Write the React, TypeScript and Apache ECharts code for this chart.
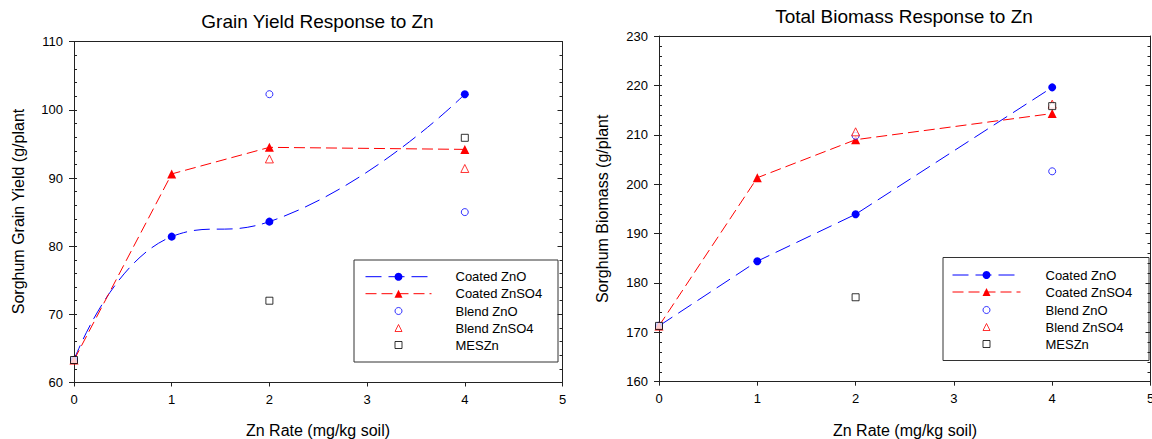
import React, { useEffect, useRef } from "react";
import * as echarts from "echarts";

// ---------- data ----------
const xTickValues = [0, 1, 2, 3, 4, 5];
const coatedRates = [0, 1, 2, 4];
const blendRates = [2, 4];
const mesRates = [0, 2, 4];

const seriesNames = ["Coated ZnO", "Coated ZnSO4", "Blend ZnO", "Blend ZnSO4", "MESZn"];

const grainCoatedZnO = [63.3, 81.4, 83.6, 102.3];
const grainCoatedZnSO4 = [63.3, 90.6, 94.5, 94.2];
const grainBlendZnO = [102.3, 85.0];
const grainBlendZnSO4 = [92.8, 91.4];
const grainMESZn = [63.3, 72.0, 95.9];

const bioCoatedZnO = [171.3, 184.4, 193.9, 219.6];
const bioCoatedZnSO4 = [171.3, 201.3, 209.0, 214.3];
const bioBlendZnO = [209.8, 202.6];
const bioBlendZnSO4 = [210.6, 216.2];
const bioMESZn = [171.3, 177.1, 215.8];

const grainYRange = [60, 110];
const bioYRange = [160, 230];

const titles = ["Grain Yield Response to Zn", "Total Biomass Response to Zn"];
const xNames = ["Zn Rate (mg/kg soil)", "Zn Rate (mg/kg soil)"];
const yNames = ["Sorghum Grain Yield (g/plant", "Sorghum Biomass (g/plant"];

// ---------- styling ----------
const FONT = "'Liberation Sans', Arial, Helvetica, sans-serif";
const BLUE = "#0000ff";
const RED = "#ff0000";
const AXIS = "#222";

const pair = (xs: number[], ys: number[]) => xs.map((x, i) => [x, ys[i]]);

function buildAxes(g: number, yRange: number[]) {
  const xAxes = [
    {
      gridIndex: g,
      type: "value",
      min: xTickValues[0],
      max: xTickValues[xTickValues.length - 1],
      interval: 1,
      position: "bottom",
      axisLine: { show: true, onZero: false, lineStyle: { color: AXIS, width: 1 } },
      axisTick: { show: true, length: 4, lineStyle: { color: AXIS } },
      axisLabel: { fontSize: 13, color: "#000", margin: 10, fontFamily: FONT },
      splitLine: { show: false },
    },
    {
      gridIndex: g,
      type: "value",
      min: xTickValues[0],
      max: xTickValues[xTickValues.length - 1],
      position: "top",
      axisLine: { show: true, onZero: false, lineStyle: { color: AXIS, width: 1 } },
      axisTick: { show: false },
      axisLabel: { show: false },
      splitLine: { show: false },
    },
  ];
  const yAxes = [
    {
      gridIndex: g,
      type: "value",
      min: yRange[0],
      max: yRange[1],
      interval: 10,
      position: "left",
      axisLine: { show: true, onZero: false, lineStyle: { color: AXIS, width: 1 } },
      axisTick: { show: true, length: 5, lineStyle: { color: AXIS } },
      axisLabel: { fontSize: 13, color: "#000", margin: 11, fontFamily: FONT },
      splitLine: { show: false },
    },
    {
      gridIndex: g,
      type: "value",
      min: yRange[0],
      max: yRange[1],
      interval: 2,
      position: "left",
      axisLine: { show: false },
      axisTick: { show: true, inside: true, length: 3, lineStyle: { color: AXIS } },
      axisLabel: { show: false },
      splitLine: { show: false },
    },
    {
      gridIndex: g,
      type: "value",
      min: yRange[0],
      max: yRange[1],
      interval: 10,
      position: "right",
      axisLine: { show: true, onZero: false, lineStyle: { color: AXIS, width: 1 } },
      axisTick: { show: true, inside: true, length: 5, lineStyle: { color: AXIS } },
      minorTick: { show: true, splitNumber: 5, length: 3, lineStyle: { color: AXIS } },
      axisLabel: { show: false },
      splitLine: { show: false },
      minorSplitLine: { show: false },
    },
  ];
  return { xAxes, yAxes };
}

function buildSeries(
  xIdx: number,
  yIdx: number,
  coatedZnO: number[],
  coatedZnSO4: number[],
  blendZnO: number[],
  blendZnSO4: number[],
  mes: number[],
  smoothBlue: boolean
) {
  const common = { xAxisIndex: xIdx, yAxisIndex: yIdx, animation: false };
  return [
    {
      ...common,
      name: seriesNames[0],
      type: "line",
      data: pair(coatedRates, coatedZnO),
      smooth: smoothBlue ? 0.5 : false,
      symbol: "circle",
      symbolSize: 8,
      lineStyle: { color: BLUE, width: 1, type: [16, 7] },
      itemStyle: { color: BLUE },
      z: 3,
    },
    {
      ...common,
      name: seriesNames[1],
      type: "line",
      data: pair(coatedRates, coatedZnSO4),
      symbol: "triangle",
      symbolSize: 9,
      lineStyle: { color: RED, width: 1, type: [11, 5] },
      itemStyle: { color: RED },
      z: 3,
    },
    {
      ...common,
      name: seriesNames[2],
      type: "scatter",
      data: pair(blendRates, blendZnO),
      symbol: "circle",
      symbolSize: 7,
      itemStyle: { color: "#fff", borderColor: BLUE, borderWidth: 1 },
      z: 4,
    },
    {
      ...common,
      name: seriesNames[3],
      type: "scatter",
      data: pair(blendRates, blendZnSO4),
      symbol: "triangle",
      symbolSize: 8,
      itemStyle: { color: "#fff", borderColor: RED, borderWidth: 1 },
      z: 4,
    },
    {
      ...common,
      name: seriesNames[4],
      type: "scatter",
      data: pair(mesRates, mes),
      symbol: "rect",
      symbolSize: 7,
      itemStyle: { color: "#fff", borderColor: "#000", borderWidth: 1 },
      z: 5,
    },
  ];
}

// legend: line entries use a wide icon; marker-only entries use a square icon
// centred under the line icon's marker, with text padded to the same column
function buildLegends(left: number, topA: number, topB: number, itemWidth: number, textX: number) {
  const baseText = { fontSize: 13, color: "#000", fontFamily: FONT, lineHeight: 14 };
  const markerSize = 7;
  const leftB = left + (itemWidth - markerSize) / 2;
  const padA = textX - (left + itemWidth + 5);
  const padB = textX - (leftB + markerSize + 5);
  const scatterItem = (name: string, icon: string, stroke: string) => ({
    name,
    icon,
    itemStyle: { color: "#fff", borderColor: stroke, borderWidth: 1 },
  });
  return [
    {
      orient: "vertical",
      left,
      top: topA,
      padding: 0,
      itemGap: 3,
      itemWidth,
      itemHeight: 10,
      selectedMode: false,
      lineStyle: { width: 1 },
      data: [seriesNames[0], seriesNames[1]],
      textStyle: { ...baseText, padding: [0, 0, 0, padA] },
    },
    {
      orient: "vertical",
      left: leftB,
      top: topB,
      padding: 0,
      itemGap: 3,
      itemWidth: markerSize,
      itemHeight: markerSize,
      selectedMode: false,
      data: [
        scatterItem(seriesNames[2], "circle", BLUE),
        scatterItem(seriesNames[3], "triangle", RED),
        scatterItem(seriesNames[4], "rect", "#000"),
      ],
      textStyle: { ...baseText, padding: [0, 0, 0, padB] },
    },
  ];
}

export default function App() {
  const ref = useRef<HTMLDivElement>(null);
  useEffect(() => {
    if (!ref.current) return;
    const chart = echarts.init(ref.current, null, { renderer: "svg" });

    const a0 = buildAxes(0, grainYRange);
    const a1 = buildAxes(1, bioYRange);

    const textEl = (text: string, x: number, y: number, size: number, rotate = false) => ({
      type: "text",
      x,
      y,
      rotation: rotate ? Math.PI / 2 : 0,
      silent: true,
      style: {
        text,
        fontSize: size,
        fontFamily: FONT,
        fill: "#000",
        align: "center",
        verticalAlign: "middle",
      },
    });

    const option: any = {
      animation: false,
      backgroundColor: "#fff",
      textStyle: { fontFamily: FONT },
      grid: [
        { left: 74, top: 41.7, width: 488.5, height: 340.8, containLabel: false, outerBoundsMode: "none" },
        { left: 659, top: 36, width: 491.5, height: 345.7, containLabel: false, outerBoundsMode: "none" },
      ],
      xAxis: [...a0.xAxes, ...a1.xAxes],
      yAxis: [...a0.yAxes, ...a1.yAxes],
      legend: [
        ...buildLegends(365, 269.7, 304, 66, 455),
        ...buildLegends(952, 268, 303, 68, 1045),
      ],
      graphic: [
        {
          type: "rect",
          z: 0,
          shape: { x: 354, y: 260, width: 204, height: 102 },
          style: { fill: "#fff", stroke: "#333", lineWidth: 1 },
          silent: true,
        },
        {
          type: "rect",
          z: 0,
          shape: { x: 943, y: 257.5, width: 206, height: 103 },
          style: { fill: "#fff", stroke: "#333", lineWidth: 1 },
          silent: true,
        },
        textEl(titles[0], 317.5, 21.7, 19),
        textEl(titles[1], 904, 16.7, 19),
        textEl(xNames[0], 318, 430.5, 16),
        textEl(xNames[1], 905, 430.7, 16),
        textEl(yNames[0], 18.8, 211.5, 16, true),
        textEl(yNames[1], 602.8, 208.8, 16, true),
      ],
      series: [
        ...buildSeries(0, 0, grainCoatedZnO, grainCoatedZnSO4, grainBlendZnO, grainBlendZnSO4, grainMESZn, true),
        ...buildSeries(2, 3, bioCoatedZnO, bioCoatedZnSO4, bioBlendZnO, bioBlendZnSO4, bioMESZn, false),
      ],
    };
    chart.setOption(option);
    return () => chart.dispose();
  }, []);

  return (
    <div
      ref={ref}
      style={{ position: "fixed", left: 0, top: 0, width: 1152, height: 439, background: "#fff" }}
    />
  );
}
